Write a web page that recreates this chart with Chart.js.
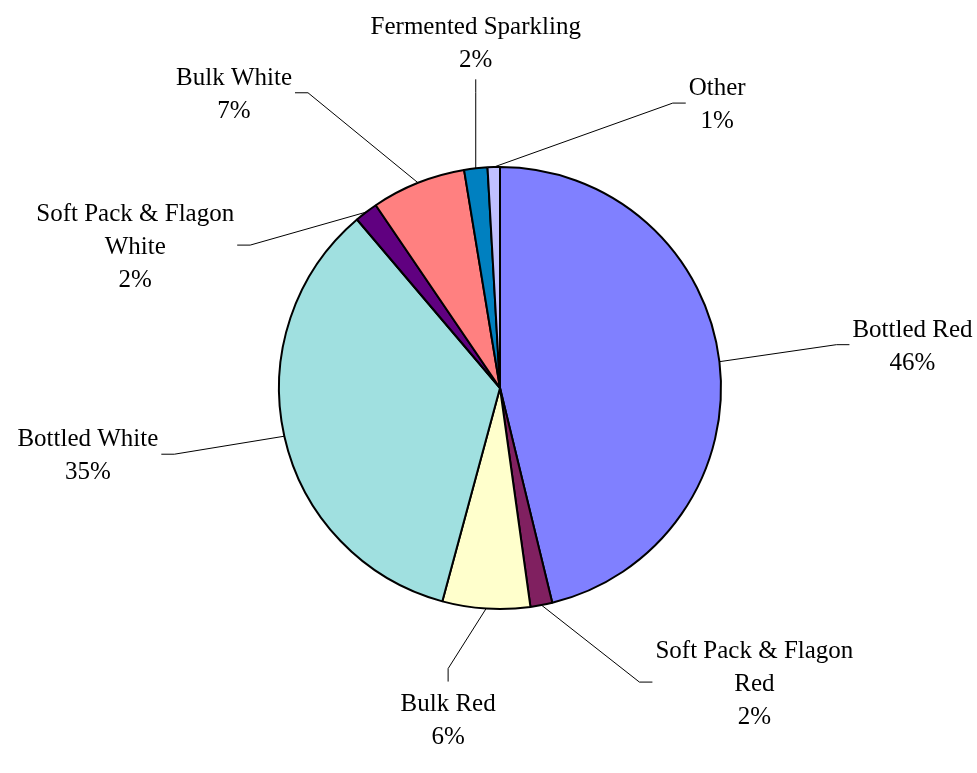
<!DOCTYPE html>
<html>
<head>
<meta charset="utf-8">
<script src="https://cdn.jsdelivr.net/npm/chart.js@4/dist/chart.umd.min.js"></script>
<style>
  html, body { margin: 0; padding: 0; background: #fff; }
  #wrap { width: 977px; height: 773px; position: relative; }
</style>
</head>
<body>
<div id="wrap"><canvas id="pie"></canvas></div>
<script>
// slice names and their shares, clockwise from 12 o'clock
var categories = ["Bottled Red", "Soft Pack & Flagon Red", "Bulk Red", "Bottled White",
                  "Soft Pack & Flagon White", "Bulk White", "Fermented Sparkling", "Other"];
var shares = [46.2, 1.6, 6.4, 34.6, 1.7, 6.9, 1.7, 0.9];
var sliceColours = ["#8080FF", "#802060", "#FFFFCC", "#A0E0E0", "#600080", "#FF8080", "#0080C0", "#C0C0FF"];

// where each label sits: elbow offset from the slice's rim point and tick direction
var labelLayout = [
  { dx: 117, dy: -17, dir: "right" },
  { dx: 98,  dy: 77,  dir: "right" },
  { dx: -38, dy: 60,  dir: "down" },
  { dx: -110, dy: 18, dir: "left" },
  { dx: -116, dy: 33, dir: "left" },
  { dx: -110, dy: -90, dir: "left" },
  { dx: 0,   dy: -76, dir: "up" },
  { dx: 179, dy: -64, dir: "right" }
];

const FONT = "25px 'Liberation Serif', 'Times New Roman', serif";
const LINE_H = 33;
const TICK = 13;

//split a label into lines no wider than maxW
function wrap(ctx, text, maxW) {
  var words = text.split(" ");
  var lines = [];
  var cur = "";
  for (let i = 0; i < words.length; i++) {
    let test = cur ? cur + " " + words[i] : words[i];
    if (ctx.measureText(test).width > maxW && cur) {
      lines.push(cur);
      cur = words[i];
    } else {
      cur = test;
    }
  }
  if (cur) lines.push(cur);
  return lines;
}

// draws leader lines and the labels outside the pie
const outsideLabels = {
  id: "outsideLabels",
  afterDraw(chart) {
    const ctx = chart.ctx;
    const meta = chart.getDatasetMeta(0);
    const data = chart.data.datasets[0].data;
    const total = data.reduce((a, b) => a + b, 0);
    ctx.save();
    ctx.font = FONT;
    ctx.fillStyle = "#000";
    ctx.strokeStyle = "#000";
    ctx.lineWidth = 1;
    meta.data.forEach((arc, i) => {
      const p = arc.getProps(["x", "y", "startAngle", "endAngle", "outerRadius"], true);
      const mid = (p.startAngle + p.endAngle) / 2;
      const rx = p.x + Math.cos(mid) * p.outerRadius;
      const ry = p.y + Math.sin(mid) * p.outerRadius;
      const lay = labelLayout[i];
      const ex = rx + lay.dx, ey = ry + lay.dy;
      let tx = ex, ty = ey;
      if (lay.dir === "right") tx += TICK;
      if (lay.dir === "left") tx -= TICK;
      if (lay.dir === "up") ty -= TICK;
      if (lay.dir === "down") ty += TICK;

      ctx.beginPath();
      ctx.moveTo(rx, ry);
      ctx.lineTo(ex, ey);
      ctx.lineTo(tx, ty);
      ctx.stroke();

      const lines = wrap(ctx, chart.data.labels[i], 230);
      lines.push(Math.round(data[i] / total * 100) + "%");
      const n = lines.length;
      let firstCenter, textX, textW;
      textW = Math.max.apply(null, lines.map(l => ctx.measureText(l).width));
      if (lay.dir === "right" || lay.dir === "left") {
        firstCenter = ty - (n - 1) * LINE_H / 2;
        textX = lay.dir === "right" ? tx + 3 + textW / 2 : tx - 3 - textW / 2;
      } else if (lay.dir === "up") {
        firstCenter = ty - 21 - (n - 1) * LINE_H;
        textX = tx;
      } else {
        firstCenter = ty + 21;
        textX = tx;
      }
      ctx.textAlign = "center";
      ctx.textBaseline = "alphabetic";
      for (let j = 0; j < n; j++) {
        ctx.fillText(lines[j], textX, firstCenter + j * LINE_H + 8.5);
      }
    });
    ctx.restore();
  }
};

var chart = new Chart(document.getElementById("pie"), {
  type: "pie",
  data: {
    labels: categories,
    datasets: [{
      data: shares,
      backgroundColor: sliceColours,
      borderColor: "#000",
      borderWidth: 2
    }]
  },
  options: {
    responsive: true,
    maintainAspectRatio: false,
    animation: false,
    layout: { padding: { top: 166, bottom: 163, left: 278, right: 255 } },
    plugins: {
      legend: { display: false },
      tooltip: { enabled: false }
    }
  },
  plugins: [outsideLabels]
});
</script>
</body>
</html>
